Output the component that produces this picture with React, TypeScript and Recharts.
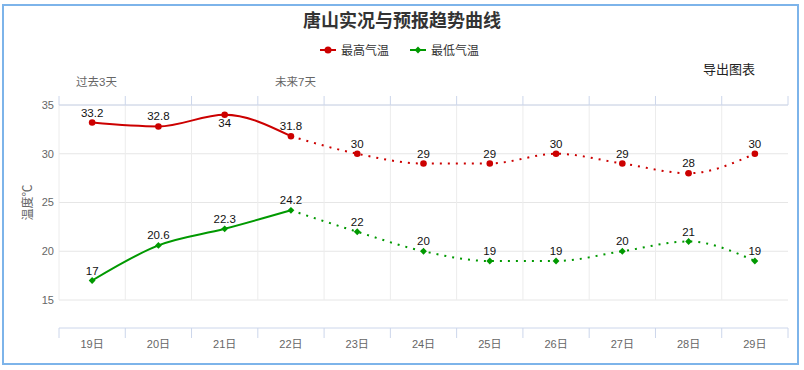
import React from 'react';
import { LineChart, Line, XAxis, YAxis, CartesianGrid, LabelList } from 'recharts';

const days = ['19日', '20日', '21日', '22日', '23日', '24日', '25日', '26日', '27日', '28日', '29日'];
const highTemps = [33.2, 32.8, 34, 31.8, 30, 29, 29, 30, 29, 28, 30];
const lowTemps = [17, 20.6, 22.3, 24.2, 22, 20, 19, 19, 20, 21, 19];
const lastObservedIndex = 3;
const tempTicks = [15, 20, 25, 30, 35];
const tempDomain = [15, 35];

const title = '唐山实况与预报趋势曲线';
const highName = '最高气温';
const lowName = '最低气温';
const pastLabel = '过去3天';
const futureLabel = '未来7天';
const exportLabel = '导出图表';
const yTitle = '温度℃';

const HIGH_COLOR = '#cc0000';
const LOW_COLOR = '#009900';
const AXIS_COLOR = '#ccd6eb';
const FONT = '"Liberation Sans", "Noto Sans CJK SC", sans-serif';
const CJK_FONT = '"Noto Sans CJK SC", "Liberation Sans", sans-serif';

const W = 804;
const H = 370;
const MARGIN = { top: 95, right: 16, bottom: 0, left: 0 };
const TOP_AXIS_H = 10;
const PLOT_TOP = MARGIN.top + TOP_AXIS_H;

const rows = days.map((day, i) => ({
  idx: i,
  day,
  high: highTemps[i],
  low: lowTemps[i],
  highPast: i <= lastObservedIndex ? highTemps[i] : null,
  highFuture: i >= lastObservedIndex ? highTemps[i] : null,
  lowPast: i <= lastObservedIndex ? lowTemps[i] : null,
  lowFuture: i >= lastObservedIndex ? lowTemps[i] : null,
}));

const centers = days.map((_, i) => i);
const bounds = [...days.map((_, i) => i - 0.5), days.length - 0.5];
const xDomain = [-0.5, days.length - 0.5];

const RedDot = (p: any) => {
  if (p.cx == null || p.cy == null || p.value == null) return <g key={`rd${p.index}`} />;
  return <circle key={`rd${p.index}`} cx={p.cx} cy={p.cy} r={3.3} fill={HIGH_COLOR} />;
};

const GreenDot = (p: any) => {
  if (p.cx == null || p.cy == null || p.value == null) return <g key={`gd${p.index}`} />;
  const s = 3.4;
  const { cx, cy } = p;
  return (
    <path
      key={`gd${p.index}`}
      d={`M${cx} ${cy - s}L${cx + s} ${cy}L${cx} ${cy + s}L${cx - s} ${cy}Z`}
      fill={LOW_COLOR}
    />
  );
};

const renderValueLabel = (p: any) => {
  const x = p.x ?? p.viewBox?.x;
  const y = p.y ?? p.viewBox?.y;
  if (p.value == null || x == null || y == null) return null;
  const below = y - 15 < PLOT_TOP;
  return (
    <text
      key={`lb${p.index}`}
      x={x}
      y={below ? y + 12 : y - 6}
      textAnchor="middle"
      fontSize={11.5}
      fontFamily={FONT}
      fill="#111"
    >
      {p.value}
    </text>
  );
};

const verticalGrid = (props: any) => {
  const xAxis = props?.xAxis;
  const inner = bounds.slice(0, -1);
  if (xAxis && typeof xAxis.scale === 'function') {
    const pts = inner.map((b) => xAxis.scale(b));
    if (pts.every((v: any) => typeof v === 'number' && isFinite(v))) return pts;
  }
  const off = props?.offset;
  if (off) {
    return inner.map((b) => off.left + ((b - xDomain[0]) / (xDomain[1] - xDomain[0])) * off.width);
  }
  return [];
};

const LegendItem = ({ left, color, name, diamond }: { left: number; color: string; name: string; diamond?: boolean }) => (
  <div style={{ position: 'absolute', left, top: 42, height: 16, display: 'flex', alignItems: 'center' }}>
    <svg width={16} height={16} style={{ display: 'block' }}>
      <line x1={0} y1={8} x2={16} y2={8} stroke={color} strokeWidth={2} />
      {diamond ? <path d="M8 4.6L11.4 8L8 11.4L4.6 8Z" fill={color} /> : <circle cx={8} cy={8} r={3.5} fill={color} />}
    </svg>
    <span style={{ marginLeft: 5, fontSize: 12, color: '#333', fontFamily: CJK_FONT, lineHeight: '16px' }}>{name}</span>
  </div>
);

export default function App() {
  return (
    <div style={{ position: 'absolute', left: 0, top: 0, width: W, height: H, background: '#fff', overflow: 'hidden' }}>
      <div
        style={{
          position: 'absolute',
          left: 2,
          top: 4,
          width: 797,
          height: 361,
          border: '2px solid #7db4ea',
          boxSizing: 'border-box',
        }}
      />
      <div
        style={{
          position: 'absolute',
          left: 0,
          top: 7,
          width: W,
          textAlign: 'center',
          fontSize: 18,
          fontWeight: 'bold',
          color: '#333',
          fontFamily: CJK_FONT,
          lineHeight: '24px',
        }}
      >
        {title}
      </div>
      <LegendItem left={320} color={HIGH_COLOR} name={highName} />
      <LegendItem left={410} color={LOW_COLOR} name={lowName} diamond />
      <div style={{ position: 'absolute', left: 703, top: 60, fontSize: 13, color: '#222', fontFamily: CJK_FONT, lineHeight: '18px' }}>
        {exportLabel}
      </div>
      <div style={{ position: 'absolute', left: 76, top: 74, fontSize: 11.5, color: '#666', fontFamily: FONT, lineHeight: '16px' }}>
        {pastLabel}
      </div>
      <div style={{ position: 'absolute', left: 275, top: 74, fontSize: 11.5, color: '#666', fontFamily: FONT, lineHeight: '16px' }}>
        {futureLabel}
      </div>
      <div style={{ position: 'absolute', left: 0, top: 0 }}>
        <LineChart width={W} height={H} data={rows} margin={MARGIN}>
          <CartesianGrid horizontal vertical={false} stroke="#e6e6e6" yAxisId={0} xAxisId="c_labels" />
          <CartesianGrid
            horizontal={false}
            vertical
            stroke="#ececec"
            xAxisId="top"
            verticalCoordinatesGenerator={verticalGrid}
          />
          <XAxis
            xAxisId="top"
            orientation="top"
            dataKey="idx"
            type="number"
            domain={xDomain}
            ticks={bounds}
            interval={0}
            height={TOP_AXIS_H}
            tickSize={9}
            tickFormatter={() => ''}
            axisLine={{ stroke: AXIS_COLOR }}
            tickLine={{ stroke: AXIS_COLOR }}
            allowDataOverflow
          />
          <XAxis
            xAxisId="a_spacer"
            orientation="bottom"
            dataKey="idx"
            type="number"
            domain={xDomain}
            height={28}
            tick={false}
            axisLine={false}
            tickLine={false}
            allowDataOverflow
          />
          <XAxis
            xAxisId="b_ticks"
            orientation="bottom"
            dataKey="idx"
            type="number"
            domain={xDomain}
            ticks={bounds}
            interval={0}
            height={1}
            tickSize={10}
            tickFormatter={() => ''}
            axisLine={{ stroke: AXIS_COLOR }}
            tickLine={{ stroke: AXIS_COLOR }}
            allowDataOverflow
          />
          <XAxis
            xAxisId="c_labels"
            orientation="bottom"
            dataKey="idx"
            type="number"
            domain={xDomain}
            ticks={centers}
            interval={0}
            height={41}
            tickSize={10}
            tickMargin={1}
            tickFormatter={(v: number) => days[v] ?? ''}
            tick={{ fill: '#666', fontSize: 11, fontFamily: FONT }}
            axisLine={false}
            tickLine={false}
            allowDataOverflow
          />
          <YAxis
            yAxisId={0}
            width={59}
            domain={tempDomain}
            ticks={tempTicks}
            interval={0}
            tickSize={0}
            tickMargin={5}
            axisLine={false}
            tickLine={false}
            tick={{ fill: '#666', fontSize: 11, fontFamily: FONT }}
            label={{ value: yTitle, angle: -90, position: 'center', dx: -2, fill: '#666', fontSize: 12, fontFamily: CJK_FONT }}
            allowDataOverflow
          />
          <Line
            xAxisId="c_labels"
            yAxisId={0}
            dataKey="highPast"
            type="monotone"
            stroke={HIGH_COLOR}
            strokeWidth={2}
            dot={false}
            activeDot={false}
            isAnimationActive={false}
          />
          <Line
            xAxisId="c_labels"
            yAxisId={0}
            dataKey="highFuture"
            type="monotone"
            stroke={HIGH_COLOR}
            strokeWidth={2}
            strokeDasharray="2 6"
            dot={false}
            activeDot={false}
            isAnimationActive={false}
          />
          <Line
            xAxisId="c_labels"
            yAxisId={0}
            dataKey="high"
            type="monotone"
            stroke="none"
            dot={RedDot}
            activeDot={false}
            isAnimationActive={false}
          >
            <LabelList dataKey="high" content={renderValueLabel} />
          </Line>
          <Line
            xAxisId="c_labels"
            yAxisId={0}
            dataKey="lowPast"
            type="monotone"
            stroke={LOW_COLOR}
            strokeWidth={2}
            dot={false}
            activeDot={false}
            isAnimationActive={false}
          />
          <Line
            xAxisId="c_labels"
            yAxisId={0}
            dataKey="lowFuture"
            type="monotone"
            stroke={LOW_COLOR}
            strokeWidth={2}
            strokeDasharray="2 6"
            dot={false}
            activeDot={false}
            isAnimationActive={false}
          />
          <Line
            xAxisId="c_labels"
            yAxisId={0}
            dataKey="low"
            type="monotone"
            stroke="none"
            dot={GreenDot}
            activeDot={false}
            isAnimationActive={false}
          >
            <LabelList dataKey="low" content={renderValueLabel} />
          </Line>
        </LineChart>
      </div>
    </div>
  );
}
